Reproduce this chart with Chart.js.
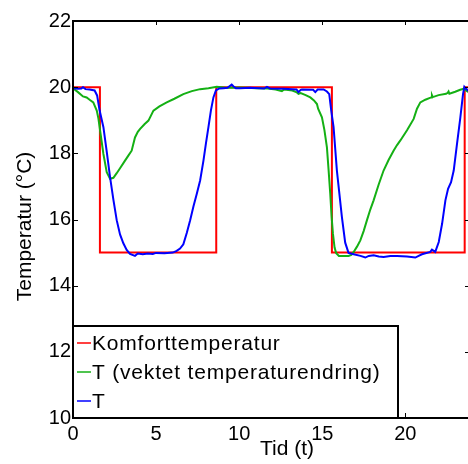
<!DOCTYPE html>
<html>
<head>
<meta charset="utf-8">
<script src="https://cdn.jsdelivr.net/npm/chart.js@4/dist/chart.umd.min.js"></script>
<style>
  html, body { margin: 0; padding: 0; background: #fff; overflow: hidden; }
  #wrap { width: 471px; height: 464px; }
</style>
</head>
<body>
<div id="wrap"><canvas id="myChart" width="471" height="464"></canvas></div>
<script>
// comfort temperature (step changes)
const tComfort = [0, 1.62, 8.62, 15.58, 23.57, 23.95];
const comfort = [20, 15, 20, 15, 20, 20];

// T (weighted temperature change)
const tWeighted = [0, 0.3, 0.6, 0.82, 1.0, 1.22, 1.43, 1.53, 1.63, 1.83, 2.03, 2.23, 2.43, 2.63, 2.83, 3.13, 3.33, 3.53, 3.73, 3.9, 4.04, 4.3, 4.54, 4.84, 5.2, 5.64, 6.1, 6.64, 7.15, 7.65, 8.15, 8.65, 9.2, 10.0,
  10.5, 11.0, 11.7, 12.2, 12.57, 12.7, 13.2, 13.47, 13.57, 13.7, 14.0, 14.28, 14.5, 14.68, 14.75, 14.98, 15.13, 15.28, 15.38, 15.48, 15.56, 15.64, 15.74, 15.84, 16.0, 16.58, 16.75, 16.89, 17.09, 17.29, 17.49, 17.69, 17.89, 18.09, 18.39, 18.69, 18.99, 19.29, 19.5, 19.7, 20.1, 20.5, 20.7, 20.9, 21.2, 21.55, 21.6, 21.65, 22.0, 22.45, 22.55, 22.6, 22.65, 23.0, 23.3, 23.5, 23.77, 23.95];
const weighted = [19.97, 19.85, 19.72, 19.69, 19.62, 19.54, 19.29, 19.05, 18.69, 17.98, 17.43, 17.23, 17.26, 17.4, 17.55, 17.78, 17.93, 18.08, 18.48, 18.65, 18.74, 18.88, 18.99, 19.29, 19.42, 19.54, 19.65, 19.79, 19.88, 19.94, 19.97, 20.01, 19.98, 19.99,
  19.98, 19.97, 19.96, 19.93, 19.88, 19.93, 19.9, 19.84, 19.8, 19.82, 19.76, 19.69, 19.6, 19.49, 19.35, 19.09, 18.7, 18.18, 17.5, 16.78, 16.1, 15.58, 15.15, 14.98, 14.9, 14.9, 14.93, 15.02, 15.18, 15.37, 15.65, 15.98, 16.3, 16.58, 17.05, 17.48, 17.8, 18.08, 18.25, 18.39, 18.7, 19.04, 19.35, 19.54, 19.62, 19.69, 19.76, 19.7, 19.76, 19.8, 19.83, 19.87, 19.8, 19.86, 19.92, 19.95, 19.86, 19.85];

// T (measured)
const tMeasured = [0, 0.3, 0.5, 0.6, 0.75, 1.0, 1.3, 1.45, 1.6, 1.83, 2.03, 2.23, 2.43, 2.63, 2.83, 3.03, 3.23, 3.43, 3.73, 3.9, 4.2, 4.5, 4.8, 5.0, 5.5, 6.0, 6.24, 6.44, 6.64, 6.85, 7.05, 7.25, 7.45, 7.65, 7.85, 8.0, 8.15, 8.3, 8.45, 8.6, 8.8, 9.05, 9.3, 9.55, 9.65, 9.8, 10.06,
  10.66, 11.5, 11.67, 11.85, 12.67, 13.45, 13.57, 13.7, 13.78, 14.45, 14.58, 14.72, 15.08, 15.28, 15.42, 15.54, 15.68, 15.88, 16.18, 16.38, 16.58, 16.89, 17.3, 17.59, 17.8, 18.09, 18.4, 18.69, 19.1, 19.5, 20.1, 20.6, 20.8, 21.0, 21.5, 21.6, 21.8, 22.01, 22.21, 22.41, 22.57, 22.75, 22.91, 23.11, 23.31, 23.47, 23.55, 23.65, 23.77, 23.95];
const measured = [19.97, 19.95, 19.96, 20.0, 19.94, 19.93, 19.9, 19.75, 19.3, 18.79, 18.05, 17.28, 16.6, 15.98, 15.55, 15.28, 15.08, 14.96, 14.9, 14.97, 14.95, 14.97, 14.96, 14.99, 14.98, 15.0, 15.05, 15.12, 15.25, 15.6, 15.98, 16.4, 16.78, 17.18, 17.78, 18.3, 18.79, 19.3, 19.69, 19.9, 19.96, 19.97, 19.98, 20.08, 20.03, 19.97, 19.97,
  19.98, 19.96, 20.01, 19.96, 19.95, 19.93, 19.85, 19.92, 19.93, 19.92, 19.85, 19.93, 19.93, 19.87, 19.79, 19.29, 18.79, 17.48, 16.08, 15.3, 14.99, 14.95, 14.9, 14.85, 14.9, 14.92, 14.88, 14.87, 14.9, 14.9, 14.88, 14.85, 14.9, 14.95, 15.02, 15.09, 15.02, 15.32, 15.87, 16.58, 16.93, 17.13, 17.48, 18.29, 19.09, 19.79, 20.01, 19.95, 19.9, 19.9];

const xTicks = [0, 5, 10, 15, 20];
const yTicks = [10, 12, 14, 16, 18, 20, 22];

const FONT = "'Liberation Sans', Arial, Helvetica, sans-serif";

function toPoints(xs, ys) {
  return xs.map((x, i) => ({ x: x, y: ys[i] }));
}

// box, inward tick marks, axis titles and the boxed legend (matlab look)
const framePlugin = {
  id: "frame",
  afterDatasetsDraw(chart) {
    const ctx = chart.ctx;
    const a = chart.chartArea;
    const xs = chart.scales.x;
    const ys = chart.scales.y;
    ctx.save();
    ctx.strokeStyle = "#000";
    ctx.lineWidth = 2;
    ctx.beginPath();
    ctx.moveTo(a.left, a.top);
    ctx.lineTo(a.right, a.top);
    ctx.lineTo(a.right, a.bottom);
    ctx.lineTo(a.left, a.bottom);
    ctx.closePath();
    ctx.stroke();

    ctx.lineWidth = 1;
    ctx.beginPath();
    xTicks.forEach((v) => {
      const px = Math.round(xs.getPixelForValue(v)) + 0.5;
      ctx.moveTo(px, a.bottom);
      ctx.lineTo(px, a.bottom - 5);
      ctx.moveTo(px, a.top);
      ctx.lineTo(px, a.top + 4);
    });
    yTicks.forEach((v) => {
      const py = Math.round(ys.getPixelForValue(v)) + 0.5;
      ctx.moveTo(a.left, py);
      ctx.lineTo(a.left + 5, py);
      ctx.moveTo(a.right, py);
      ctx.lineTo(a.right - 5, py);
    });
    ctx.stroke();

    // axis titles
    ctx.fillStyle = "#000";
    ctx.font = "21px " + FONT;
    ctx.textAlign = "center";
    ctx.textBaseline = "alphabetic";
    ctx.fillText("Tid (t)", a.left + 214, a.bottom + 37);
    ctx.save();
    ctx.translate(31, (a.top + a.bottom) / 2 + 7);
    ctx.rotate(-Math.PI / 2);
    ctx.fillText("Temperatur (\u00B0C)", 0, 0);
    ctx.restore();

    // legend box in the lower left corner
    const lw = 325, lh = 92;
    const lx = a.left, ly = a.bottom - lh;
    ctx.fillStyle = "#fff";
    ctx.fillRect(lx, ly, lw, lh);
    ctx.lineWidth = 2;
    ctx.strokeRect(lx, ly, lw, lh);
    ctx.font = "21px " + FONT;
    ctx.textAlign = "left";
    ctx.textBaseline = "middle";
    ctx.letterSpacing = "0.8px";
    chart.data.datasets.forEach((ds, i) => {
      const cy = ly + 17 + i * 29;
      ctx.strokeStyle = ds.borderColor;
      ctx.lineWidth = 1.5;
      ctx.beginPath();
      ctx.moveTo(lx + 4, cy);
      ctx.lineTo(lx + 18, cy);
      ctx.stroke();
      ctx.fillStyle = "#000";
      ctx.fillText(ds.label, lx + 19, cy + 1);
    });
    ctx.restore();
  },
};

const ctx = document.getElementById("myChart").getContext("2d");
new Chart(ctx, {
  type: "line",
  data: {
    datasets: [
      {
        label: "Komforttemperatur",
        data: toPoints(tComfort, comfort),
        borderColor: "#ff0000",
        borderWidth: 2,
        stepped: true,
        pointRadius: 0,
        order: 3,
      },
      {
        label: "T (vektet temperaturendring)",
        data: toPoints(tWeighted, weighted),
        borderColor: "#14b014",
        borderWidth: 2,
        pointRadius: 0,
        tension: 0,
        order: 2,
      },
      {
        label: "T",
        data: toPoints(tMeasured, measured),
        borderColor: "#0000ff",
        borderWidth: 2,
        pointRadius: 0,
        tension: 0,
        order: 1,
      },
    ],
  },
  options: {
    responsive: false,
    animation: false,
    devicePixelRatio: 1,
    layout: { padding: { top: 21, right: 1, left: 0, bottom: 0 } },
    scales: {
      x: {
        type: "linear",
        min: 0,
        max: 23.89,
        afterFit: (s) => { s.height = 46; },
        afterBuildTicks: (s) => { s.ticks = xTicks.map((v) => ({ value: v })); },
        grid: { display: false, drawTicks: false },
        border: { display: false },
        ticks: { color: "#000", font: { family: FONT, size: 20 }, padding: 4, maxRotation: 0 },
      },
      y: {
        min: 10,
        max: 22,
        afterFit: (s) => { s.width = 73; },
        afterBuildTicks: (s) => { s.ticks = yTicks.map((v) => ({ value: v })); },
        grid: { display: false, drawTicks: false },
        border: { display: false },
        ticks: { color: "#000", font: { family: FONT, size: 20 }, padding: 2 },
      },
    },
    plugins: {
      legend: { display: false },
      tooltip: { enabled: false },
    },
  },
  plugins: [framePlugin],
});
</script>
</body>
</html>
